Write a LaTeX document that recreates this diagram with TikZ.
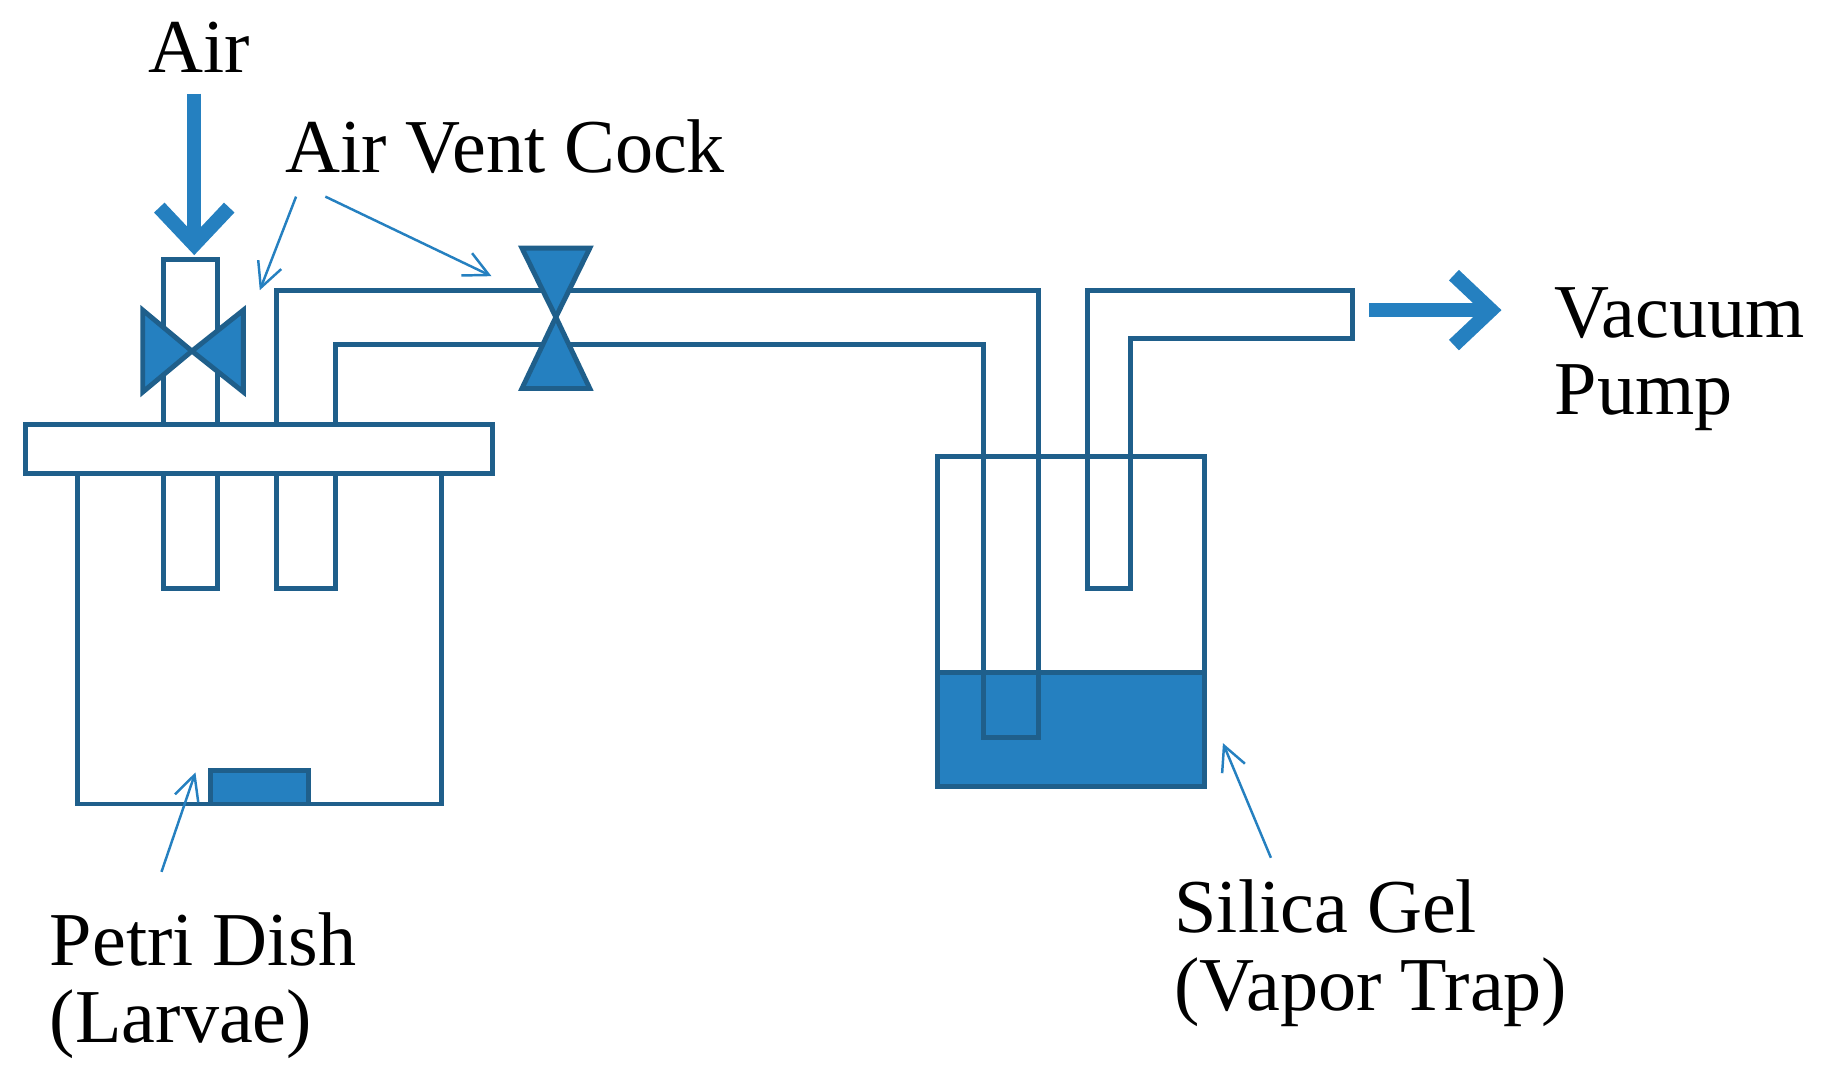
\documentclass[tikz,border=0pt]{standalone}
\usetikzlibrary{arrows.meta}
\usepackage{fontspec}
\setmainfont{Liberation Serif}
\begin{document}
\definecolor{ln}{HTML}{1F5F8B}
\definecolor{fl}{HTML}{2580C0}
\begin{tikzpicture}[x=0.01cm,y=-0.01cm,
  wall/.style={draw=ln,line width=1.2pt,line join=miter},
  ptr/.style={draw=fl,line width=0.6pt,-{Straight Barb[length=6pt,width=6pt]}},
  big/.style={draw=fl,line width=3.5pt,-{Straight Barb[length=9pt,width=17pt,line width=3.5pt]}},
  lbl/.style={font=\fontsize{18.5}{21}\selectfont,anchor=west,inner sep=0pt}]
\useasboundingbox (0,0) rectangle (1568,925);
% tubes
\draw[wall] (140,503) -- (140,222) -- (186,222) -- (186,503) -- cycle;
\draw[wall] (236,503) -- (236,248) -- (887,248) -- (887,630) -- (840,630) -- (840,294) -- (287,294) -- (287,503) -- cycle;
% trap
\fill[fl] (801,575) rectangle (1029,672);
\draw[wall] (801,390) rectangle (1029,672);
\draw[wall] (801,575) -- (1029,575);
\draw[wall] (840,575) -- (840,630) -- (887,630) -- (887,575);
\draw[wall] (929,503) -- (929,248) -- (1156,248) -- (1156,289) -- (966,289) -- (966,503) -- cycle;
% jar
\draw[wall,fill=white] (22,363) rectangle (421,405);
\draw[wall] (66,405) -- (66,687) -- (377,687) -- (377,405);
\draw[wall,fill=fl] (180,687) rectangle (264,658);
% valves
\draw[wall,fill=fl] (122,265) -- (164,300) -- (122,335) -- cycle;
\draw[wall,fill=fl] (208,265) -- (164,300) -- (208,335) -- cycle;
\draw[wall,fill=fl] (446,212) -- (475,271) -- (504,212) -- cycle;
\draw[wall,fill=fl] (446,332) -- (475,271) -- (504,332) -- cycle;
% labels
\node[font=\fontsize{18.5}{21}\selectfont,inner sep=0pt] (air) at (170,40) {Air};
\node[lbl] (avc) at (243,125) {Air Vent Cock};
\node[lbl] (vac) at (1328,268) {Vacuum};
\node[lbl] (pump) at (1328,340) {Pump};
\node[lbl] (pd) at (42,803) {Petri Dish};
\node[lbl] (lar) at (42,875) {(Larvae)};
\node[lbl] (sg) at (1003,775) {Silica Gel};
\node[lbl] (vt) at (1003,848) {(Vapor Trap)};
% arrows
\coordinate (a1) at (166,80); \coordinate (a2) at (166,218);
\draw[big] (a1) -- (a2);
\coordinate (v1) at (1170,265); \coordinate (v2) at (1283,265);
\draw[big] (v1) -- (v2);
\coordinate (p1) at (253,168); \coordinate (p2) at (222,248);
\coordinate (p3) at (278,168); \coordinate (p4) at (420,236);
\coordinate (p5) at (138,745); \coordinate (p6) at (167,660);
\coordinate (p7) at (1086,733); \coordinate (p8) at (1045,635);
\draw[ptr] (p1) -- (p2);
\draw[ptr] (p3) -- (p4);
\draw[ptr] (p5) -- (p6);
\draw[ptr] (p7) -- (p8);
\end{tikzpicture}
\end{document}
